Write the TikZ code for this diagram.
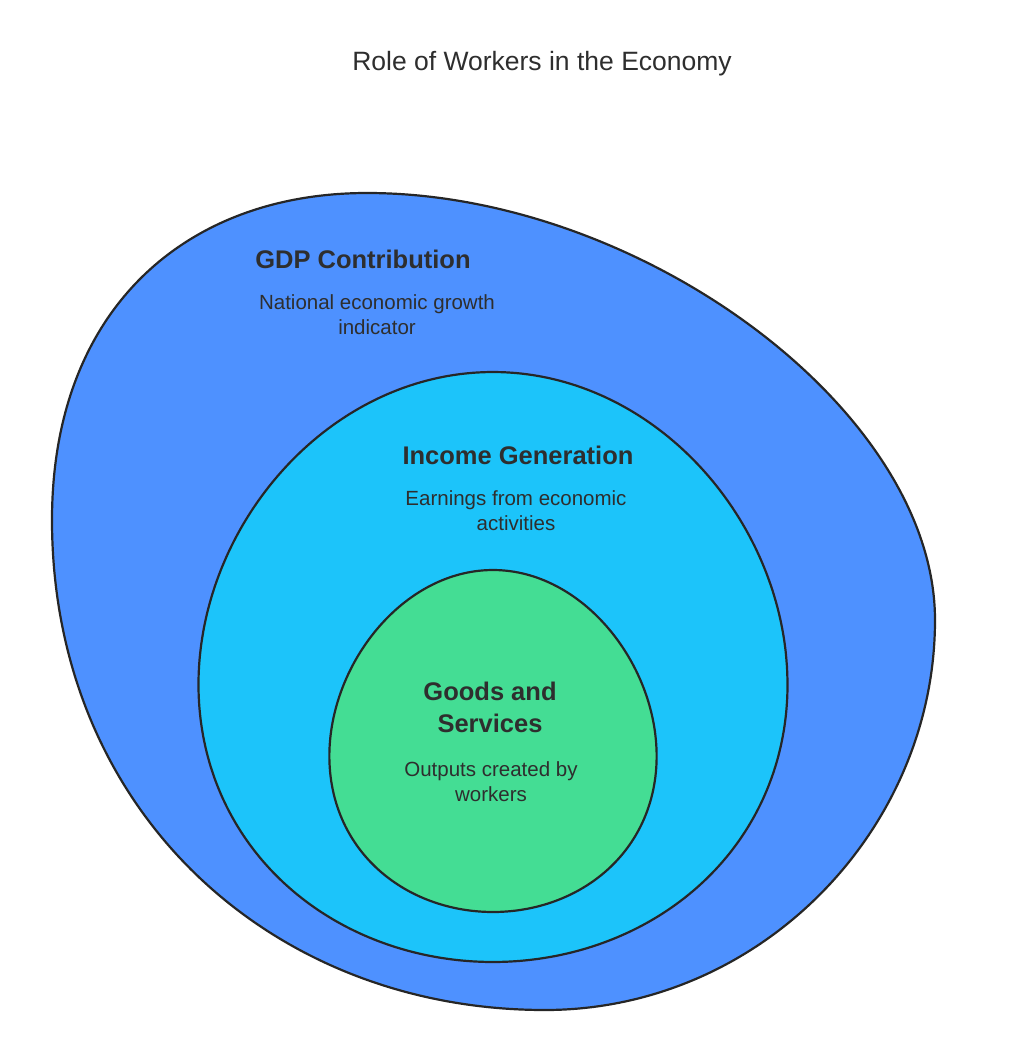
\documentclass[tikz,border=0pt]{standalone}
\usepackage{fontspec}
\setmainfont{Liberation Sans}
\begin{document}
\begin{tikzpicture}[x=1pt,y=-1pt,
  ring/.style={draw=black!85, line width=2.2pt},
  heading/.style={font=\fontsize{25.5}{32}\selectfont\bfseries, text=black!82, align=center},
  desc/.style={font=\fontsize{20.5}{25}\selectfont, text=black!82, align=center}]
\definecolor{outerblue}{RGB}{78,145,255}
\definecolor{midcyan}{RGB}{28,196,250}
\definecolor{innergreen}{RGB}{68,221,148}
\useasboundingbox (0,0) rectangle (1024,1037);
\fill[white] (0,0) rectangle (1024,1037);
% outer blob
\draw[ring, fill=outerblue] (367,193)
  .. controls (640,193) and (935,410) .. (935,620)
  .. controls (935,830) and (760,1010) .. (545,1010)
  .. controls (270,1010) and (52,810) .. (52,520)
  .. controls (52,310) and (185,193) .. (367,193) -- cycle;
% middle egg
\draw[ring, fill=midcyan] plot[domain=0:360, samples=120, smooth cycle]
 ({493+294*cos(\x)*(1+0.06*sin(\x))},{667+295*sin(\x)});
% inner egg
\draw[ring, fill=innergreen] plot[domain=0:360, samples=120, smooth cycle]
 ({493+163*cos(\x)*(1+0.09*sin(\x))},{741+171*sin(\x)});
% texts
\node[font=\fontsize{26.5}{30}\selectfont, text=black!82] (title) at (542,64) {Role of Workers in the Economy};
\node[heading] (gdp) at (363,259) {GDP Contribution};
\node[desc] (gdpd) at (377,315) {National economic growth\\indicator};
\node[heading] (inc) at (518,455) {Income Generation};
\node[desc] (incd) at (516,511) {Earnings from economic\\activities};
\node[heading] (goods) at (490,707) {Goods and\\Services};
\node[desc] (goodsd) at (491,782) {Outputs created by\\workers};
\end{tikzpicture}
\end{document}
